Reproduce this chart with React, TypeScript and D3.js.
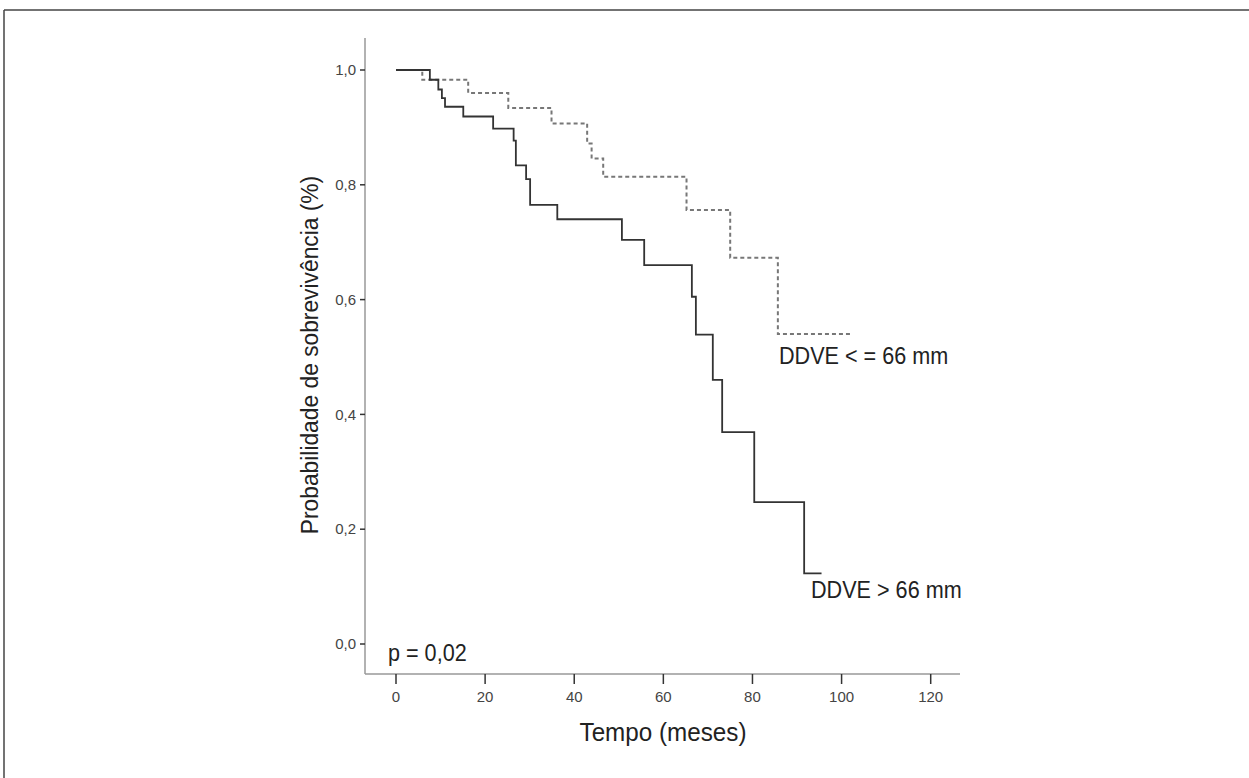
import React from "react";
import * as d3 from "d3";

// Kaplan-Meier steps, DDVE > 66 mm (solid)
const highTimes = [0, 7.6, 9.5, 10.3, 11.0, 15.1, 21.8, 26.4, 26.9, 29.2, 30.1, 36.2, 50.7, 55.7, 66.4, 67.3, 71.1, 73.2, 80.4, 91.6, 95.5];
const highSurv = [1, 0.983, 0.966, 0.951, 0.936, 0.919, 0.898, 0.877, 0.834, 0.810, 0.765, 0.740, 0.704, 0.660, 0.605, 0.539, 0.460, 0.369, 0.247, 0.123, 0.123];

// DDVE <= 66 mm (dashed)
const lowTimes = [0, 5.9, 16.2, 25.2, 34.9, 42.9, 43.9, 46.5, 65.2, 75.0, 85.7, 102.3];
const lowSurv = [1, 0.983, 0.960, 0.934, 0.907, 0.872, 0.846, 0.814, 0.756, 0.673, 0.540, 0.540];

const xTicks = [0, 20, 40, 60, 80, 100, 120];
const yTicks = [0, 0.2, 0.4, 0.6, 0.8, 1.0];

const labelHigh = "DDVE > 66 mm";
const labelLow = "DDVE < = 66 mm";
const pText = "p = 0,02";
const xTitle = "Tempo (meses)";
const yTitle = "Probabilidade de sobrevivência (%)";

const W = 1249;
const H = 778;
const FONT = "'Liberation Sans', Arial, sans-serif";

export default function App() {
  const x = d3.scaleLinear().domain([0, 120]).range([396, 930.7]);
  const y = d3.scaleLinear().domain([0, 1]).range([644, 70]);
  const axisLeft = 365;
  const axisBottom = 674;

  const line = d3
    .line<[number, number]>()
    .x((d) => x(d[0]))
    .y((d) => y(d[1]))
    .curve(d3.curveStepAfter);

  const highPts = highTimes.map((t, i) => [t, highSurv[i]] as [number, number]);
  const lowPts = lowTimes.map((t, i) => [t, lowSurv[i]] as [number, number]);

  const fmt = (v: number) => v.toFixed(1).replace(".", ",");

  const condensed = (tx: number, ty: number) => `translate(${tx},${ty}) scale(0.9,1)`;

  return (
    <svg
      width={W}
      height={H}
      style={{ position: "absolute", left: 0, top: 0, background: "#fff" }}
      fontFamily={FONT}
    >
      <rect x={0} y={0} width={W} height={H} fill="#fff" />
      {/* outer frame (only top & left visible) */}
      <line x1={4} x2={W} y1={10} y2={10} stroke="#444" strokeWidth={1.5} />
      <line x1={4} x2={4} y1={10} y2={H} stroke="#444" strokeWidth={1.5} />

      {/* axes */}
      <line x1={axisLeft} x2={axisLeft} y1={38} y2={axisBottom} stroke="#999" strokeWidth={1.5} />
      <line x1={axisLeft} x2={960} y1={axisBottom} y2={axisBottom} stroke="#999" strokeWidth={1.5} />

      {yTicks.map((v) => (
        <g key={"y" + v}>
          <line x1={360} x2={axisLeft} y1={y(v)} y2={y(v)} stroke="#333" strokeWidth={1.5} />
          <text x={356} y={y(v)} dy="0.35em" textAnchor="end" fontSize={15} fill="#444">
            {fmt(v)}
          </text>
        </g>
      ))}
      {xTicks.map((v) => (
        <g key={"x" + v}>
          <line x1={x(v)} x2={x(v)} y1={axisBottom} y2={684} stroke="#333" strokeWidth={1.5} />
          <text x={x(v)} y={702} textAnchor="middle" fontSize={15} fill="#444">
            {v}
          </text>
        </g>
      ))}

      {/* curves */}
      <path d={line(lowPts) || ""} fill="none" stroke="#777" strokeWidth={2} strokeDasharray="4,3" />
      <path d={line(highPts) || ""} fill="none" stroke="#333" strokeWidth={1.8} />

      {/* labels */}
      <text transform={condensed(779, 364)} fontSize={24} fill="#222">{labelLow}</text>
      <text transform={condensed(811, 598)} fontSize={24} fill="#222">{labelHigh}</text>
      <text transform={condensed(388, 661)} fontSize={24} fill="#222">{pText}</text>
      <text transform={`translate(663,741) scale(0.97,1)`} textAnchor="middle" fontSize={25} fill="#222">{xTitle}</text>
      <text
        transform={`translate(318,355) rotate(-90) scale(0.95,1)`}
        textAnchor="middle"
        fontSize={24}
        fill="#222"
      >
        {yTitle}
      </text>
    </svg>
  );
}
